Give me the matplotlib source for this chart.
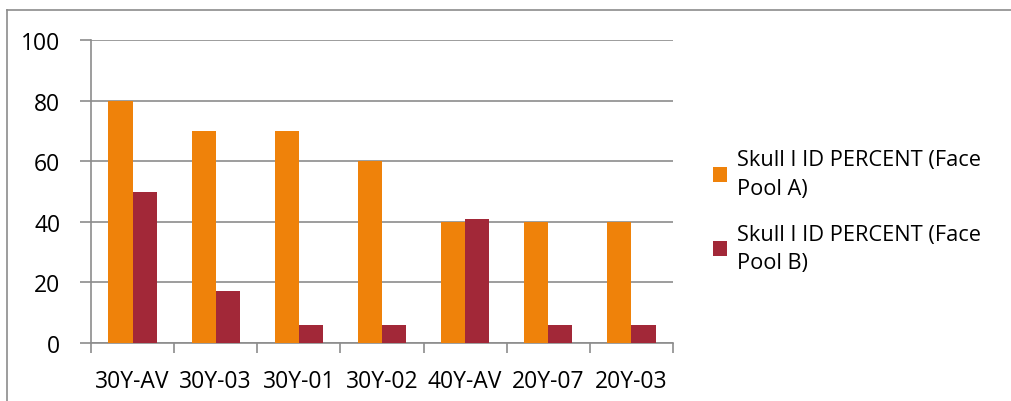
import matplotlib.pyplot as plt
import numpy as np
from matplotlib.lines import Line2D

categories = ['30Y-AV', '30Y-03', '30Y-01', '30Y-02', '40Y-AV', '20Y-07', '20Y-03']
pool_a = [80, 70, 70, 60, 40, 40, 40]
pool_b = [50, 17, 6, 6, 41, 6, 6]
labels = ['Skull I ID PERCENT (Face\nPool A)', 'Skull I ID PERCENT (Face\nPool B)']

plt.rcParams['font.family'] = ['Open Sans', 'DejaVu Sans']

fig = plt.figure(figsize=(10.12, 4.02), dpi=100)
ax = fig.add_axes([91 / 1012, 1 - 344 / 402, 582 / 1012, 303 / 402])

x = np.arange(len(categories))
w = 0.29
b1 = ax.bar(x - w / 2, pool_a, w, color='#EF820A', zorder=3)
b2 = ax.bar(x + w / 2, pool_b, w, color='#A22838', zorder=3)

ax.set_xlim(-0.5, len(categories) - 0.5)
ax.set_ylim(0, 100)
ax.set_yticks(np.arange(0, 101, 20))
ax.yaxis.grid(True, color='#8c8c8c', linewidth=1.2, zorder=0)
ax.set_xticks(x)
ax.set_xticklabels(categories, fontsize=16.5)
ax.tick_params(axis='x', length=0, pad=19)
ax.set_xticks(np.arange(-0.5, len(categories)), minor=True)
ax.tick_params(axis='x', which='minor', length=7, color='#8c8c8c', width=1.2)
ax.tick_params(axis='y', length=8, color='#8c8c8c', width=1.2, labelsize=16.5, pad=14)
for s in ['top', 'right']:
    ax.spines[s].set_visible(False)
for s in ['left', 'bottom']:
    ax.spines[s].set_color('#8c8c8c')
    ax.spines[s].set_linewidth(1.2)

leg = ax.legend([b1, b2], labels, loc='center left', bbox_to_anchor=(1.035, 0.435),
                frameon=False, fontsize=15.7, handlelength=0.65, handleheight=0.65,
                handletextpad=0.45, labelspacing=1.15)
for t in leg.get_texts():
    t.set_linespacing(1.45)

# outer chart frame
fig.add_artist(Line2D([7 / 1012, 7 / 1012], [0, 1 - 11 / 402], transform=fig.transFigure,
                      color='#8c8c8c', linewidth=1.2))
fig.add_artist(Line2D([7 / 1012, 1], [1 - 11 / 402, 1 - 11 / 402], transform=fig.transFigure,
                      color='#8c8c8c', linewidth=1.2))

fig.savefig('out.png', dpi=100)
